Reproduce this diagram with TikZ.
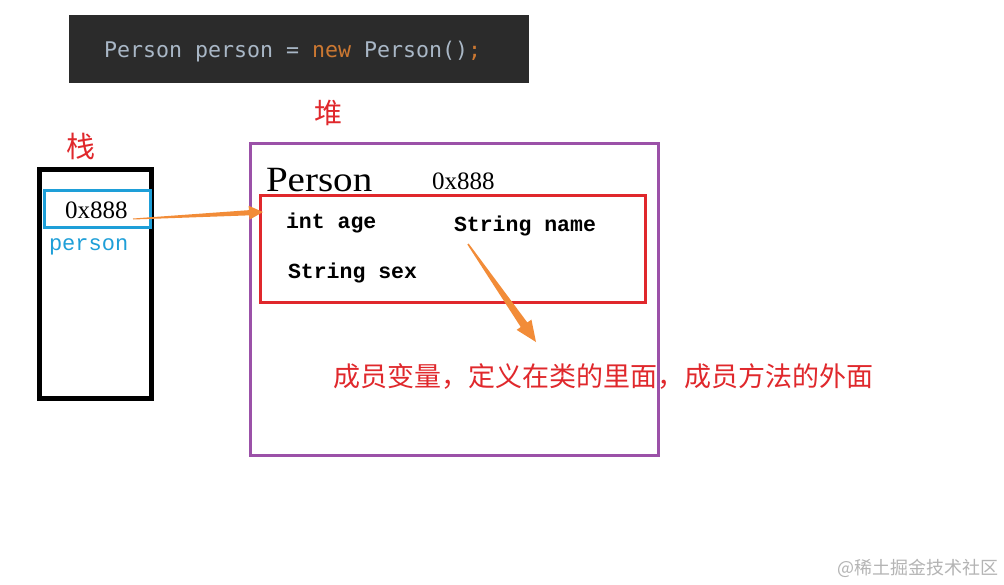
\documentclass[tikz,border=0pt]{standalone}
\usepackage{fontspec}
\setmainfont{Liberation Serif}
\newfontfamily\cjk{Noto Sans CJK SC}
\newfontfamily\codefont{DejaVu Sans Mono}
\newfontfamily\monofont{Liberation Mono}
\usetikzlibrary{calc}
\definecolor{codebg}{HTML}{2B2B2B}
\definecolor{codefg}{HTML}{A9B7C6}
\definecolor{codekw}{HTML}{CC7832}
\definecolor{redc}{HTML}{E0282C}
\definecolor{bluec}{HTML}{1E9FD8}
\definecolor{purplec}{HTML}{9B51A8}
\definecolor{arrowc}{HTML}{F28C38}
\definecolor{markc}{HTML}{B4B4B4}
\newcommand\taparrow[6]{%
  \coordinate (tmpH) at ($(#2)!#3!(#1)$);
  \fill[arrowc] ($(#1)!#5!90:(#2)$) -- ($(tmpH)!#6!-90:(#1)$) -- ($(tmpH)!#4!-90:(#1)$)
    -- (#2) -- ($(tmpH)!#4!90:(#1)$) -- ($(tmpH)!#6!90:(#1)$) -- ($(#1)!#5!-90:(#2)$) -- cycle;}
\tikzset{
  txt/.style={anchor=base west, inner sep=0pt, outer sep=0pt},
  box/.style={rectangle, inner sep=0pt, outer sep=0pt, fill=none},
  monotxt/.style={txt, font=\monofont\bfseries\fontsize{21.5}{24}\selectfont},
  hexnum/.style={txt, font=\fontsize{25}{28}\selectfont},
}
\begin{document}
\begin{tikzpicture}[x=1pt,y=-1pt]
\useasboundingbox (0,0) rectangle (1004,584);
\fill[white] (0,0) rectangle (1004,584);
% code bar
\node[box, fill=codebg, minimum width=460pt, minimum height=68pt] (code) at (299,49) {};
\node[txt, text=codefg, font=\codefont\fontsize{21.6}{24}\selectfont] (codetxt) at (104,57)
  {Person person = \textcolor{codekw}{new} Person()\textcolor{codekw}{;}};
% labels
\node[txt, text=redc, font=\cjk\fontsize{29}{30}\selectfont] (stacklbl) at (66,157) {栈};
\node[txt, text=redc, font=\cjk\fontsize{28}{30}\selectfont] (heaplbl) at (314,123) {堆};
% note text (under purple line)
\node[txt, text=redc, font=\cjk\fontsize{27}{30}\selectfont] (note) at (333,386)
  {成员变量，定义在类的里面，成员方法的外面};
% stack
\node[box, draw=black, line width=5pt, minimum width=111.5pt, minimum height=229pt] (stack) at (95.25,284) {};
\node[box, draw=bluec, line width=3pt, minimum width=106pt, minimum height=37.5pt] (ref) at (97.5,208.75) {};
\node[hexnum] (refval) at (65,218) {0x888};
\node[txt, text=bluec, font=\monofont\fontsize{22}{24}\selectfont] (refname) at (49,250) {person};
% heap
\node[box, draw=purplec, line width=3pt, minimum width=408pt, minimum height=311.5pt] (heap) at (454,299.25) {};
\node[txt, font=\fontsize{35.5}{40}\selectfont] (cls) at (266,191) {\scalebox{1.1}[1]{Person}};
\node[hexnum] (addr) at (432,189) {0x888};
\node[box, draw=redc, line width=3pt, minimum width=385.5pt, minimum height=107pt] (fields) at (452.75,249) {};
\node[monotxt] (age) at (286,228) {int age};
\node[monotxt] (name) at (454,231) {String name};
\node[monotxt] (sex) at (288,278) {String sex};
% arrows
\coordinate (a1s) at (133,219);
\coordinate (a1e) at (263,212);
\taparrow{a1s}{a1e}{14pt}{7pt}{0.5pt}{2.6pt}
\coordinate (a2s) at (468,244);
\coordinate (a2e) at (536,342);
\taparrow{a2s}{a2e}{21pt}{9pt}{0.8pt}{4pt}
% watermark
\node[txt, text=markc, font=\cjk\fontsize{18}{20}\selectfont] (mark) at (837,574) {@稀土掘金技术社区};
\end{tikzpicture}
\end{document}
